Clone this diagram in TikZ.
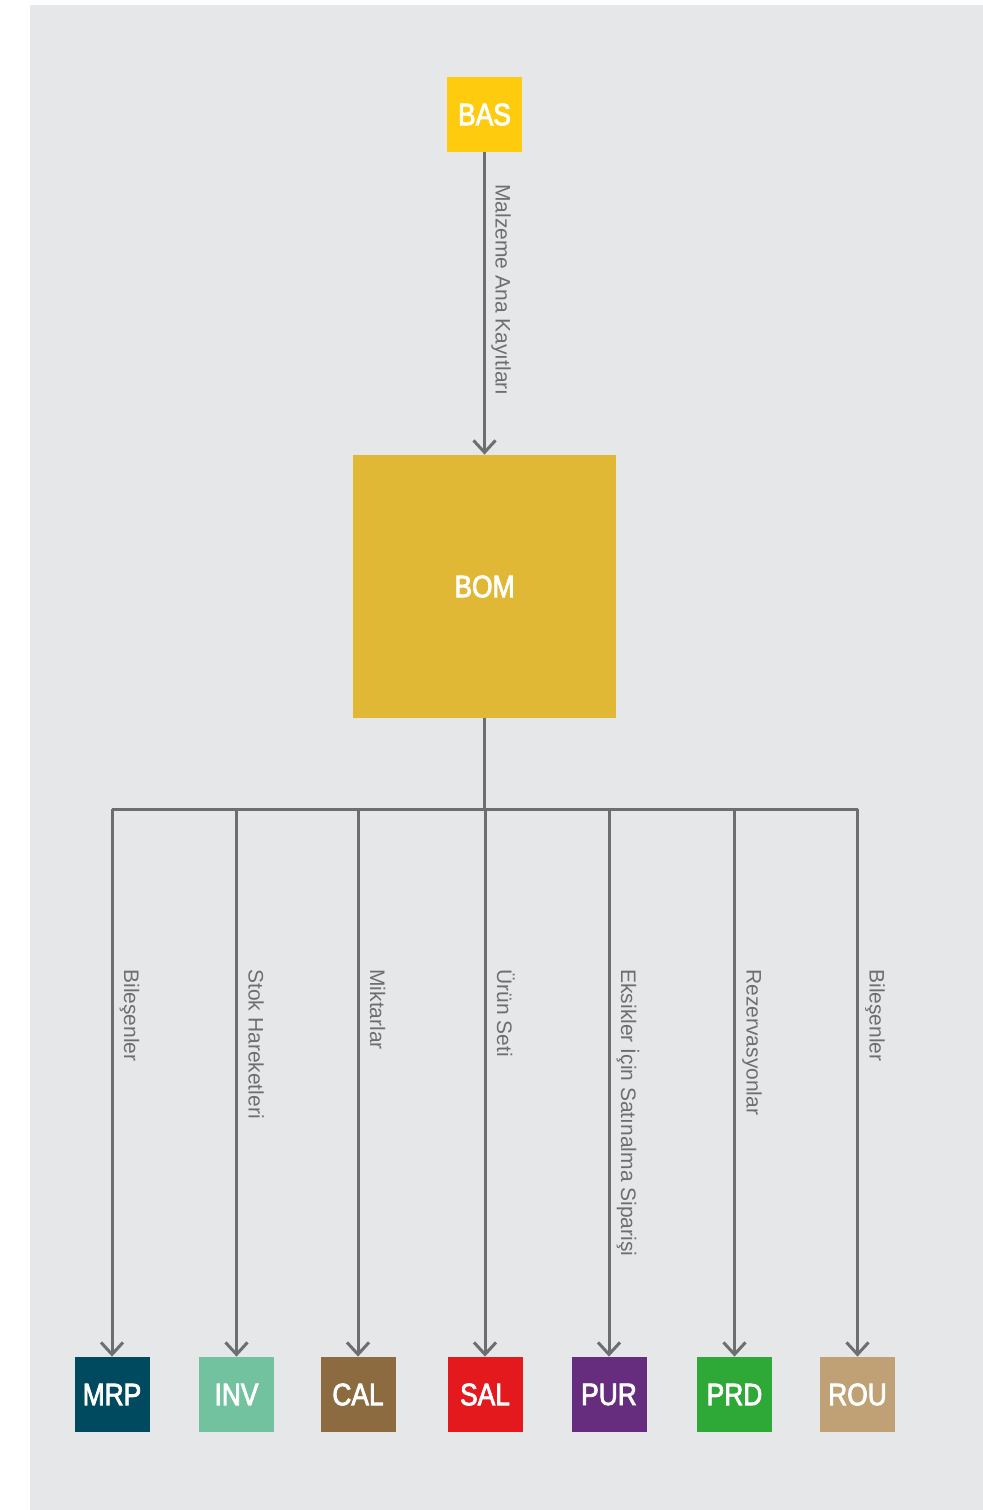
\documentclass[tikz,border=0pt]{standalone}
\usepackage{fontspec}
\setmainfont{Liberation Sans}
\newfontfamily\boxfont[FakeStretch=0.85, FakeBold=2.5]{Liberation Sans}
\usetikzlibrary{arrows.meta,calc}
\definecolor{bgc}{HTML}{E6E7E9}
\definecolor{linec}{HTML}{6D6E70}
\definecolor{basc}{HTML}{FFCB0F}
\definecolor{bomc}{HTML}{E0B835}
\definecolor{mrpc}{HTML}{004A5F}
\definecolor{invc}{HTML}{72C29F}
\definecolor{calc}{HTML}{8B6B3F}
\definecolor{salc}{HTML}{E3191D}
\definecolor{purc}{HTML}{662D7E}
\definecolor{prdc}{HTML}{2EA836}
\definecolor{rouc}{HTML}{BFA175}
\tikzset{
  modbox/.style={fill=#1, draw=none, minimum size=37.5pt, inner sep=0pt,
    text=white, font=\boxfont\fontsize{15.5}{17}\selectfont},
  conn/.style={draw=linec, line width=1.5pt},
  arr/.style={conn, -{Straight Barb[length=6pt,width=11pt,line width=1.5pt]}},
  lab/.style={rotate=-90, anchor=base west, inner sep=0pt, text=linec,
    font=\fontsize{10.5}{12}\selectfont}
}
\begin{document}
\begin{tikzpicture}[x=0.5pt,y=-0.5pt]
\useasboundingbox (0,0) rectangle (983,1510);
\fill[bgc] (30,5) rectangle (983,1510);
\node[modbox=basc] (bas) at (484.5,114.5) {BAS};
\node[modbox=bomc, minimum size=131.5pt] (bom) at (484.5,586.5) {BOM};
\node[modbox=mrpc] (mrp) at (112,1394.5) {MRP};
\node[modbox=invc] (inv) at (236.5,1394.5) {INV};
\node[modbox=calc] (cal) at (358,1394.5) {CAL};
\node[modbox=salc] (sal) at (485,1394.5) {SAL};
\node[modbox=purc] (pur) at (609,1394.5) {PUR};
\node[modbox=prdc] (prd) at (734.5,1394.5) {PRD};
\node[modbox=rouc] (rou) at (857.5,1394.5) {ROU};
\coordinate (bus) at (484.5,809);
\coordinate (labrow) at (0,969);
\draw[arr] (bas.south) -- (bom.north);
\node[lab] at ([xshift=5.5pt]bas.south |- 0,184) {Malzeme Ana Kayıtları};
\draw[conn] (bom.south) -- (bus);
\draw[conn] (mrp.north |- bus) -- (rou.north |- bus);
\foreach \n/\t in {mrp/Bileşenler, inv/Stok Hareketleri, cal/Miktarlar, sal/Ürün Seti, pur/Eksikler İçin Satınalma Siparişi, prd/Rezervasyonlar, rou/Bileşenler}{
  \draw[arr] (\n.north |- bus) -- (\n.north);
  \node[lab] at ([xshift=6pt]\n.north |- labrow) {\t};
}
\end{tikzpicture}
\end{document}
